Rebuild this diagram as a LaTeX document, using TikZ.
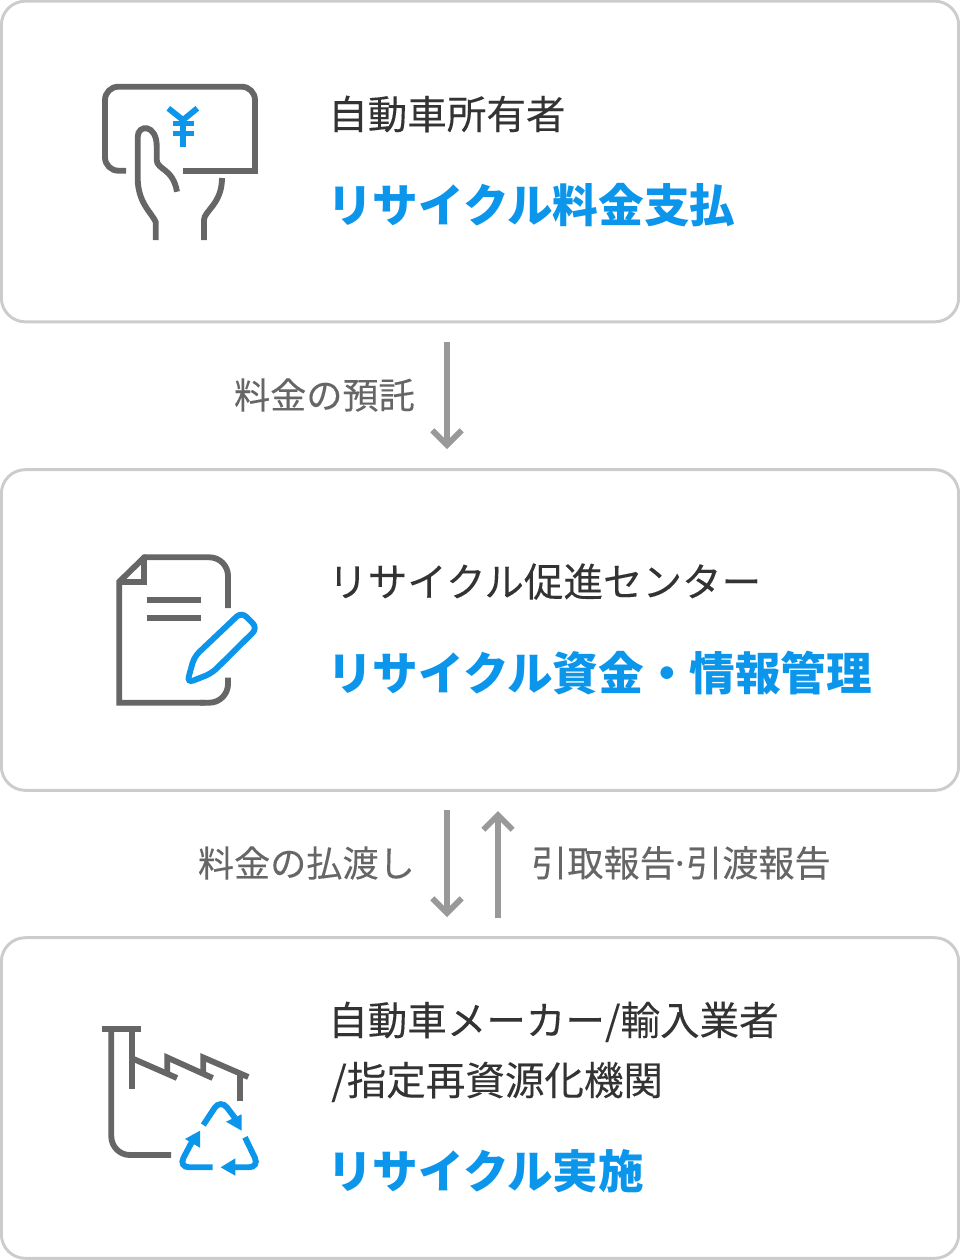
\documentclass[tikz,border=0pt]{standalone}
\usepackage{fontspec}
\setmainfont[FakeBold=0.15,BoldFeatures={FakeBold=0}]{Noto Sans CJK JP}
\usetikzlibrary{arrows.meta}
\definecolor{linegray}{HTML}{CCCCCC}
\definecolor{icongray}{HTML}{666666}
\definecolor{arrowgray}{HTML}{999999}
\definecolor{mainblue}{HTML}{0B96EC}
\definecolor{titlegray}{HTML}{333333}

\begin{document}
\begin{tikzpicture}[x=0.75pt,y=-0.75pt,
    panel/.style={draw=linegray,line width=2.2pt,rounded corners=18pt,minimum width=718pt,minimum height=240.5pt,inner sep=0pt},
    who/.style={anchor=base west,inner sep=0pt,text=titlegray,font=\fontsize{29.65pt}{30pt}\selectfont},
    task/.style={anchor=base west,inner sep=0pt,text=mainblue,font=\fontsize{34.2pt}{35pt}\selectfont\bfseries},
    flowlabel/.style={inner sep=0pt,text=icongray,font=\fontsize{27.1pt}{28pt}\selectfont},
    flow/.style={draw=arrowgray,line width=4.3pt,-{Straight Barb[length=11pt,width=22pt,line width=4.3pt]}},
    greyline/.style={draw=icongray,line width=4.4pt},
    blueline/.style={draw=mainblue,line width=4.4pt}]
  \useasboundingbox (0,0) rectangle (960,1260);

  % Panels
  \foreach \i/\y in {1/161.5, 2/630, 3/1098} {
    \node[panel] (box\i) at (480,\y) {};
  }

  % Panel texts
  \node[who] (owner) at (328,129) {自動車所有者};
  \node[task] (payment) at (327,222) {リサイクル料金支払};
  \node[who] (center) at (328,596.5) {リサイクル促進センター};
  \node[task] (funds) at (327,690) {リサイクル資金・情報管理};
  \node[who] (maker) at (328,1035) {自動車メーカー/輸入業者};
  \node[who] (facility) at (331,1095) {/指定再資源化機関};
  \node[task] (recycling) at (327,1188) {リサイクル実施};

  % Arrows between the panels
  \coordinate (trustA) at (447,342);
  \coordinate (trustB) at (447,449);
  \coordinate (payA) at (447,810);
  \coordinate (payB) at (447,917);
  \coordinate (reportA) at (498,918);
  \coordinate (reportB) at (498,811);
  \draw[flow] (trustA) -- (trustB);
  \draw[flow] (payA) -- (payB);
  \draw[flow] (reportA) -- (reportB);

  % Arrow labels
  \node[flowlabel,anchor=east] (trust) at (415,395) {料金の預託};
  \node[flowlabel,anchor=east] (pay) at (415,863) {料金の払渡し};
  \node[flowlabel,anchor=west] (report) at (531,863) {引取報告\kern-4.5pt·\kern-3pt 引渡報告};

  % Card and hand
  \draw[greyline,rounded corners=10pt] (126,170.7) -- (105,170.7) -- (105,86.7) -- (255,86.7) -- (255,120);
  \draw[greyline] (255,110) -- (255,170.7) -- (183,170.7);
  \draw[greyline] (155.7,240) -- (155.7,222) .. controls (152,213) and (137.7,203) .. (137.7,178)
    -- (137.7,137) .. controls (137.7,124) and (156.7,124) .. (156.7,146) -- (156.7,160)
    .. controls (157,170) and (173,168) .. (177,191.7);
  \draw[greyline] (204,240) -- (204,220) .. controls (204,211) and (222,204) .. (222,178);
  \draw[blueline] (168.3,108.3) -- (183,120) -- (197.3,108.3);
  \draw[blueline] (183,120) -- (183,146.7);
  \foreach \y in {123.5, 133.5} {
    \draw[blueline,line width=4pt] (172.7,\y) -- (194,\y);
  }

  % Sheet and pencil
  \draw[greyline,rounded corners=14pt] (228,608) -- (228,557.3) -- (144.3,557.3);
  \draw[greyline,line join=miter] (146,557.3) -- (144.3,557.3) -- (119.3,581.7) -- (119.3,702.7) -- (205,702.7);
  \draw[greyline,rounded corners=14pt] (200,702.7) -- (228,702.7) -- (228,677.7);
  \draw[greyline] (144.3,557.3) -- (144.3,581.7) -- (119.3,581.7);
  \foreach \y in {600, 617.7} {
    \draw[greyline] (146.7,\y) -- (201,\y);
  }
  \draw[blueline,rounded corners=5pt] (187,683) -- (194.3,656.7) -- (241.5,612) -- (257.5,628) -- (211.7,673.3) -- cycle;

  % Factory
  \draw[greyline] (102,1029) -- (141,1029);
  \draw[greyline,rounded corners=14pt] (111.3,1029) -- (111.3,1155) -- (171,1155);
  \draw[greyline] (132,1029) -- (132,1089);
  \draw[greyline] (132,1058.3) -- (177,1078);
  \draw[greyline] (167.3,1075) -- (167.3,1057.5) -- (212.7,1078);
  \draw[greyline] (203.3,1075) -- (203.3,1057.5) -- (248.3,1077);
  \draw[greyline] (240,1074) -- (240,1101);

  % Recycling mark
  \draw[blueline,rounded corners=8pt] (203.3,1125) -- (220.5,1099) -- (235,1118);
  \fill[mainblue] (241.7,1114.3) -- (241.7,1130.7) -- (226,1121.7) -- cycle;
  \draw[blueline,rounded corners=8pt] (212.7,1167.3) -- (178.5,1167.3) -- (195,1136);
  \fill[mainblue] (200,1130.7) -- (185,1139) -- (200,1147.7) -- cycle;
  \draw[blueline,rounded corners=8pt] (245,1137.3) -- (259.5,1167.3) -- (230,1167.3);
  \fill[mainblue] (220.7,1167.3) -- (235.3,1158.3) -- (235.3,1175.7) -- cycle;
\end{tikzpicture}
\end{document}
